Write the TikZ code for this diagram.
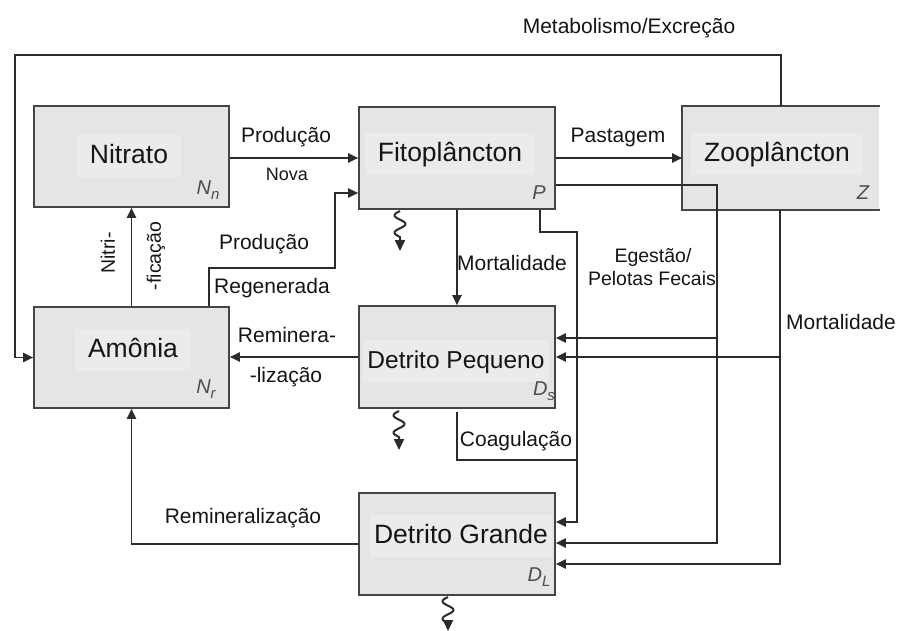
\documentclass[tikz,border=0pt]{standalone}
\usepackage{fontspec}
\setmainfont{Liberation Sans}
\usetikzlibrary{arrows.meta}
\definecolor{boxfill}{HTML}{E5E5E5}
\definecolor{textfill}{HTML}{EBEBEB}
\definecolor{edgecol}{HTML}{454545}
\definecolor{wirecol}{HTML}{2B2B2B}
\definecolor{ink}{HTML}{151515}
\definecolor{symgray}{HTML}{4D4D4D}
\newcommand\subsym[1]{\raisebox{-5pt}{\fontsize{15}{15}\selectfont #1}}
% wavy sinking arrow hanging below a point
\newcommand\sinkfrom[2]{%
  \begin{scope}[shift={(#1)}]
    \draw[sink] plot[domain=0:26, samples=60, smooth] ({-5.5*sin(20.77*\x)}, \x) -- (0,#2);
  \end{scope}}
\begin{document}
\begin{tikzpicture}[x=1pt,y=-1pt,
  box/.style={fill=boxfill, draw=edgecol, line width=1.6pt, minimum width=196pt, minimum height=102pt, inner sep=0pt},
  ttl/.style={fill=textfill, inner xsep=13pt, inner ysep=8pt, text height=20pt, text depth=6pt, text=ink, anchor=base, font=\fontsize{26.5}{30}\selectfont},
  lbl/.style={text=ink, inner sep=0pt, font=\fontsize{21}{24}\selectfont},
  small/.style={text=ink, inner sep=0pt, font=\fontsize{19.5}{22}\selectfont},
  sym/.style={text=symgray, inner sep=0pt, font=\fontsize{20}{22}\selectfont\itshape},
  wire/.style={draw=wirecol, line width=1.9pt},
  arr/.style={wire, -{Triangle[length=10pt,width=9pt]}},
  sink/.style={draw=wirecol, line width=2pt, line join=round, -{Triangle[length=11pt,width=10pt]}}]

% canvas
\fill[white] (0,0) rectangle (898,630);
\useasboundingbox (0,0) rectangle (898,630);

% compartments
\node[box] (nit) at (131.5,156.5) [minimum width=195pt, minimum height=101pt] {};
\node[box] (fit) at (457,158) {};
\node[box, draw=none] (zoo) at (781,158) {};
\draw[edgecol, line width=1.6pt] (zoo.north east) -- (zoo.north west) -- (zoo.south west) -- (zoo.south east);
\node[box] (amo) at (131.5,357.5) [minimum width=195pt, minimum height=101pt] {};
\node[box] (dp) at (457,357) {};
\node[box] (dg) at (457,544) {};

% compartment titles
\node[ttl] (nit-t) at (129,163) {Nitrato};
\node[ttl] (fit-t) at (450,161) {Fitoplâncton};
\node[ttl] (zoo-t) at (777,161) {Zooplâncton};
\node[ttl] (amo-t) at (133,357) {Amônia};
\node[ttl, inner xsep=4pt, font=\fontsize{24.5}{28}\selectfont] (dp-t) at (456,368) {Detrito Pequeno};
\node[ttl, inner xsep=4pt] (dg-t) at (461,543) {Detrito Grande};

% state symbols
\node[sym] (nit-s) at (208,190) {N\subsym{n}};
\node[sym] (fit-s) at (539,193) {P};
\node[sym] (zoo-s) at (863,193) {Z};
\node[sym] (amo-s) at (206,389) {N\subsym{r}};
\node[sym] (dp-s) at (544,391) {D\subsym{s}};
\node[sym] (dg-s) at (539,577) {D\subsym{L}};

% junction points
\coordinate (metaL) at (15,55);
\coordinate (regA) at (209,268);
\coordinate (regB) at (335,193);
\coordinate (egTop) at (717,185);
\coordinate (egMid) at (717,338);
\coordinate (egBot) at (717,543);
\coordinate (pA) at (540,232);
\coordinate (pB) at (577,522);
\coordinate (zmMid) at (780,357);
\coordinate (zmBot) at (780,564);
\coordinate (coA) at (457,412);
\coordinate (coB) at (577,460);

% metabolism / excretion loop
\draw[arr] (zoo.north) |- (metaL) |- (amo.west);
\node[lbl] (l-meta) at (629,28) {Metabolismo/Excreção};

% new production
\draw[arr] (nit.east |- fit.west) -- (fit.west);
\node[lbl] (l-prod1) at (286,137) {Produção};
\node[small, font=\fontsize{18}{20}\selectfont] (l-nova) at (287,174) {Nova};

% regenerated production
\draw[arr] (amo.north -| regA) |- (regA -| regB) |- (fit.west |- regB);
\node[lbl] (l-prod2) at (264,244) {Produção};
\node[lbl] (l-regen) at (272,288) {Regenerada};

% nitrification
\draw[arr] (amo.north) -- (nit.south);
\node[small, rotate=90] (l-nitri) at (108,253) {Nitri-};
\node[small, rotate=90] (l-fica) at (156,256) {-ficação};

% grazing
\draw[arr] (fit.east) -- (zoo.west);
\node[lbl] (l-past) at (618,137) {Pastagem};

% egestion / fecal pellets
\draw[arr] (fit.east |- egTop) -- (egTop) -- (egBot) -- (dg.east |- egBot);
\draw[arr] (egMid) -- (dp.east |- egMid);
\node[small] (l-eg1) at (653,257) {Egestão/};
\node[small] (l-eg2) at (652,279) {Pelotas Fecais};

% phytoplankton to large detritus
\draw[arr] (fit.south -| pA) |- (pA -| pB) |- (dg.east |- pB);

% phytoplankton mortality
\draw[arr] (fit.south) -- (dp.north);
\node[lbl] (l-mort1) at (512,263) {Mortalidade};

% zooplankton mortality
\draw[arr] (zoo.south -| zmBot) -- (zmBot) -- (dg.east |- zmBot);
\draw[arr] (zmMid) -- (dp.east |- zmMid);
\node[lbl] (l-mort2) at (841,322) {Mortalidade};

% remineralization of small detritus
\draw[arr] (dp.west) -- (amo.east |- dp.west);
\node[lbl] (l-rem1) at (287,335) {Reminera-};
\node[lbl] (l-rem2) at (286,377) {-lização};

% coagulation
\draw[wire] (coA) |- (coB);
\node[lbl] (l-coag) at (516,441) {Coagulação};

% remineralization of large detritus
\draw[arr] (dg.west) -| (amo.south);
\node[lbl] (l-rem3) at (243,518) {Remineralização};

% sinking losses
\coordinate (s1) at (400,211);
\coordinate (s2) at (399,411);
\coordinate (s3) at (448,597);
\sinkfrom{s1}{40}
\sinkfrom{s2}{39}
\sinkfrom{s3}{34}
\end{tikzpicture}
\end{document}
